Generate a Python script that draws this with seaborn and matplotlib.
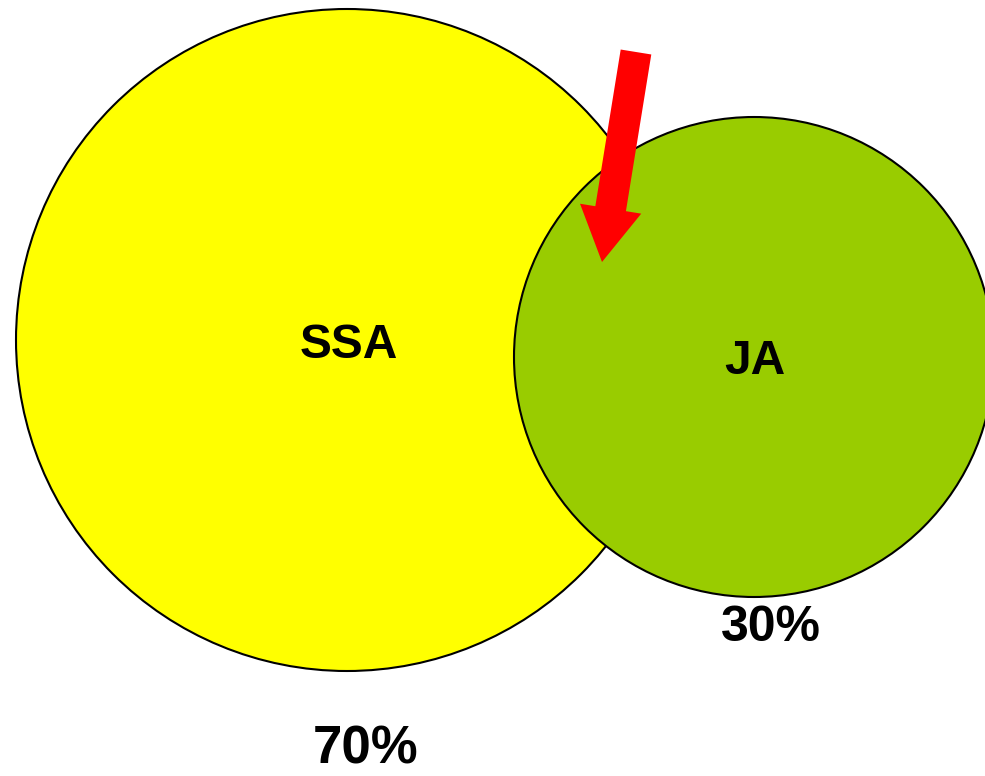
import matplotlib
matplotlib.use("Agg")
import matplotlib.pyplot as plt
from matplotlib.patches import Circle, FancyArrow
import seaborn as sns

# data
groups = ["SSA", "JA"]
shares = [70, 30]
share_labels = [f"{s}%" for s in shares]
colors = ["#FFFF00", "#99CC00"]

sns.set_theme(style="white")
plt.rcParams["font.family"] = ["Liberation Sans", "DejaVu Sans"]

fig = plt.figure(figsize=(9.85, 7.76), dpi=100)
ax = fig.add_axes([0, 0, 1, 1])
ax.set_xlim(0, 985)
ax.set_ylim(776, 0)
ax.set_aspect("equal")
ax.axis("off")

centers = [(347, 340), (754, 357)]
radii = [331, 240]
label_pos = [(348.5, 345), (755, 362)]
share_pos = [(366, 750), (771, 628)]
share_sizes = [38, 36]

for (c, r, col, z) in zip(centers, radii, colors, [1, 2]):
    ax.add_patch(Circle(c, r, facecolor=col, edgecolor="black", linewidth=1.5, zorder=z))

for g, p in zip(groups, label_pos):
    ax.text(p[0], p[1], g, ha="center", va="center", fontsize=34.5,
            fontweight="bold", color="black", zorder=5)

for s, p, fs in zip(share_labels, share_pos, share_sizes):
    ax.text(p[0], p[1], s, ha="center", va="center", fontsize=fs,
            fontweight="bold", color="black", zorder=5)

tail = (636, 52)
tip = (602, 262)
ax.add_patch(FancyArrow(tail[0], tail[1], tip[0] - tail[0], tip[1] - tail[1],
                        width=31, head_width=62, head_length=54,
                        length_includes_head=True, color="#FF0000",
                        linewidth=0, zorder=6))

fig.savefig("out.png", dpi=100)
